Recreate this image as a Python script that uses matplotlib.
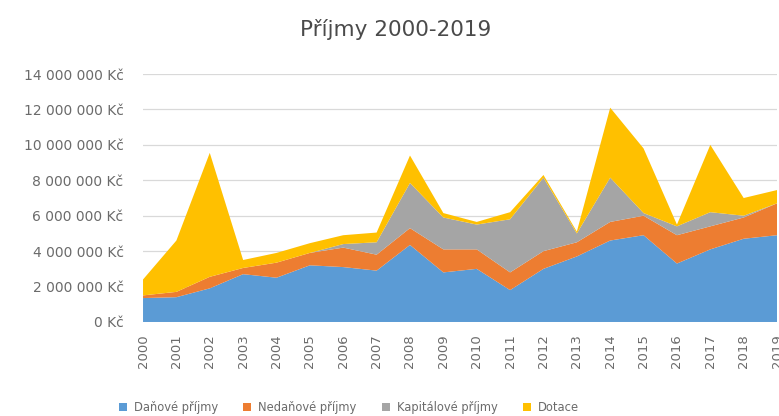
import matplotlib
matplotlib.use("Agg")
import matplotlib.pyplot as plt
from matplotlib.patches import Patch
from matplotlib.ticker import FuncFormatter

years = list(range(2000, 2020))
# values in millions Kč
danove = [1.35, 1.4, 1.9, 2.7, 2.5, 3.2, 3.1, 2.9, 4.35, 2.8, 3.0, 1.8, 3.0, 3.7, 4.6, 4.9, 3.3, 4.1, 4.7, 4.9]
nedanove = [0.15, 0.3, 0.65, 0.35, 0.85, 0.7, 1.1, 0.9, 0.95, 1.3, 1.1, 1.0, 1.0, 0.8, 1.05, 1.1, 1.6, 1.3, 1.2, 1.8]
kapitalove = [0, 0, 0, 0, 0, 0, 0.2, 0.7, 2.55, 1.8, 1.4, 3.0, 4.15, 0.5, 2.5, 0.15, 0.5, 0.8, 0.1, 0]
dotace = [0.9, 2.9, 7.0, 0.45, 0.55, 0.55, 0.5, 0.55, 1.55, 0.25, 0.15, 0.4, 0.15, 0.1, 3.95, 3.65, 0.1, 3.8, 1.0, 0.75]

labels = ["Daňové příjmy", "Nedaňové příjmy", "Kapitálové příjmy", "Dotace"]
colors = ["#5B9BD5", "#ED7D31", "#A5A5A5", "#FFC000"]

plt.rcParams['font.family'] = ['DejaVu Sans']

fig = plt.figure(figsize=(7.79, 4.16), dpi=100)
ax = fig.add_axes([0.1836, 0.226, 0.8139, 0.596])

series = [[v * 1e6 for v in s] for s in (danove, nedanove, kapitalove, dotace)]
ax.stackplot(years, *series, colors=colors, linewidth=0)

ax.set_xlim(2000, 2019)
ax.set_ylim(0, 14e6)
ax.set_yticks([i * 2e6 for i in range(8)])
ax.yaxis.set_major_formatter(FuncFormatter(
    lambda v, p: "{:,.0f} Kč".format(v).replace(",", " ")))
ax.set_xticks(years)
ax.set_xticklabels([str(y) for y in years], rotation=90)
ax.tick_params(axis='y', length=0, pad=14, labelsize=10, labelcolor='#6b6b6b')
ax.tick_params(axis='x', length=0, pad=9, labelsize=9.5, labelcolor='#6b6b6b')

ax.grid(axis='y', color='#d9d9d9', linewidth=0.9)
ax.set_axisbelow(True)
for s in ax.spines.values():
    s.set_visible(False)

fig.text(0.508, 0.93, "Příjmy 2000-2019", ha='center', va='center',
         fontsize=15.5, color='#4a4a4a')

handles = [Patch(facecolor=c, edgecolor='none') for c in colors]
fig.legend(handles, labels, loc='lower center', bbox_to_anchor=(0.448, -0.02),
           ncol=4, frameon=False, fontsize=8.3, labelcolor='#6b6b6b',
           handlelength=0.7, handleheight=0.7, columnspacing=2.2, handletextpad=0.6)

fig.savefig("out.png", dpi=100)
